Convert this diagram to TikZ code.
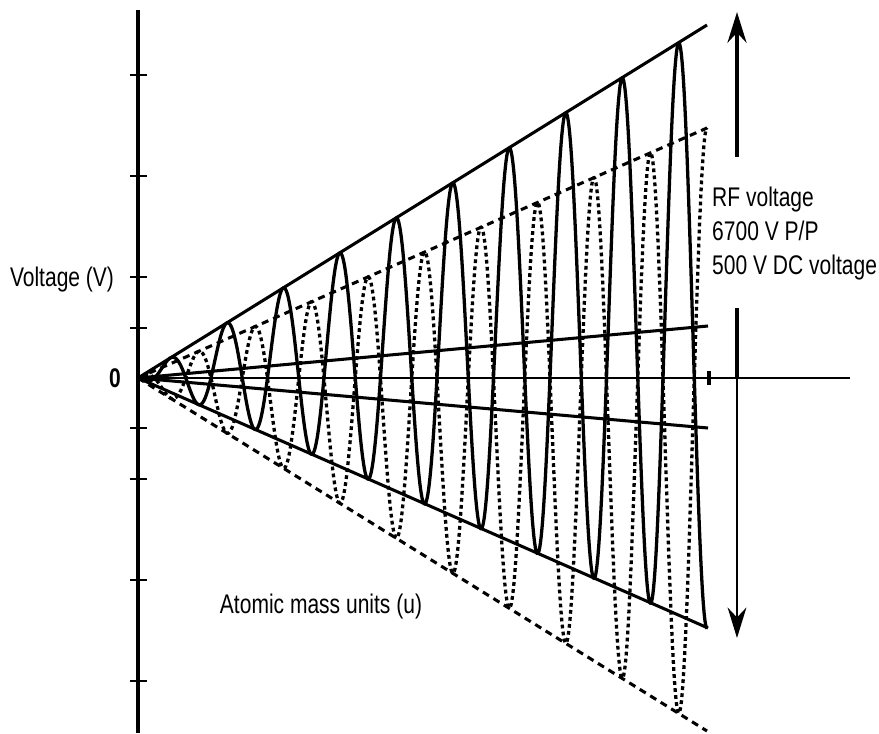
\documentclass[tikz,border=0pt]{standalone}
\usepackage{fontspec}
\setmainfont[FakeStretch=0.78]{Liberation Sans}
\usetikzlibrary{arrows.meta}

\begin{document}
\begin{tikzpicture}[x=0.03cm, y=-0.03cm, >=Stealth,
  axis/.style={line width=3.3pt},
  env/.style={line width=2.6pt},
  denv/.style={line width=2.6pt, dash pattern=on 6pt off 4.5pt},
  wave/.style={line width=2.8pt},
  dwave/.style={line width=2.8pt, dash pattern=on 3.2pt off 2.8pt},
  every node/.style={font=\fontsize{23}{29}\selectfont, inner sep=0pt}]
  \useasboundingbox (0,0) rectangle (879,733);
  % axes
  \coordinate (O) at (138,378);
  \coordinate (vtop) at (138,10);
  \coordinate (vbot) at (138,733);
  \coordinate (hend) at (850,378);
  \draw[axis] (vtop) -- (vbot);
  \draw[line width=1.7pt] (O) -- (hend);
  \foreach \t in {-303,-202,-101,-50,50,101,202,303}
    \draw[line width=2pt] (130,378+\t) -- (147,378+\t);
  \draw[line width=2.8pt] (709,371) -- (709,385);
  % envelopes
  \coordinate (eu) at (707,25);
  \coordinate (el) at (708,628);
  \coordinate (cu) at (708,326);
  \coordinate (cl) at (708,428);
  \coordinate (du) at (707,128);
  \coordinate (dl) at (707,731);
  \draw[env] (O) -- (eu);
  \draw[env] (O) -- (el);
  \draw[env] (O) -- (cu);
  \draw[env] (O) -- (cl);
  \draw[denv] (O) -- (du);
  \draw[denv] (O) -- (dl);
  % RF + DC waves
  \draw[wave, line join=round] plot[domain=138:707, samples=800]
    (\x, {378-0.09*(\x-138)-0.53*(\x-138)*sin(6.3717*(\x-156))});
  \draw[dwave, line join=round] plot[domain=138:707, samples=800]
    (\x, {378+0.09*(\x-138)+0.53*(\x-138)*sin(6.3717*(\x-156))});
  % voltage arrows
  \coordinate (atop) at (737,12);
  \coordinate (abase) at (737,157);
  \coordinate (bstart) at (737,308);
  \coordinate (bmid) at (737,378);
  \coordinate (bend) at (737,638);
  \draw[line width=4.2pt, -{Stealth[length=26pt, width=16pt]}] (abase) -- (atop);
  \draw[line width=4.2pt] (bstart) -- (bmid);
  \draw[line width=1.8pt, -{Stealth[length=26pt, width=16pt]}] (bmid) -- (bend);
  % labels
  \node (vlab) at (62,280) {Voltage (V)};
  \node[font=\fontsize{23}{29}\selectfont\bfseries] (zero) at (115,378) {0};
  \node (mlab) at (321,607) {Atomic mass units (u)};
  \node[anchor=north west, align=left] (rflab) at (712,187)
    {RF voltage\\6700 V P/P\\500 V DC voltage};
\end{tikzpicture}
\end{document}
